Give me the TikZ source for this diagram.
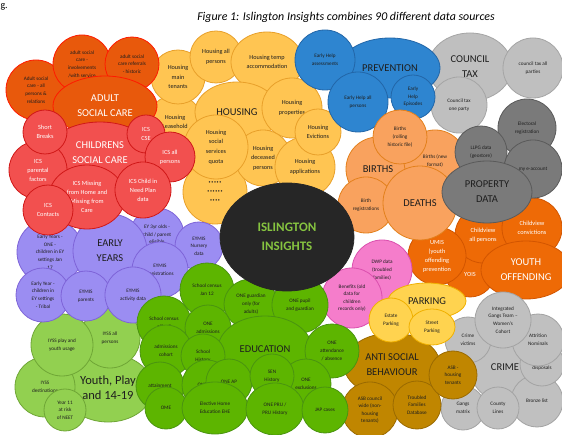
\documentclass[tikz,border=0pt]{standalone}
\usepackage{fontspec}
\setmainfont{Carlito}
\usetikzlibrary{shapes.geometric}
\definecolor{adF}{HTML}{E8590C}\definecolor{adD}{HTML}{FF1A00}
\definecolor{chF}{HTML}{F2504F}\definecolor{chD}{HTML}{D01818}
\definecolor{eyF}{HTML}{9B8DF2}\definecolor{eyD}{HTML}{7E64D8}
\definecolor{ypF}{HTML}{92D050}\definecolor{ypD}{HTML}{6FA636}
\definecolor{edF}{HTML}{5DB500}\definecolor{edD}{HTML}{4A9410}
\definecolor{hoF}{HTML}{FFC552}\definecolor{hoD}{HTML}{E8A02A}
\definecolor{prF}{HTML}{2E85D0}\definecolor{prD}{HTML}{2266A8}
\definecolor{ctF}{HTML}{BFBFBF}\definecolor{ctD}{HTML}{A5A5A5}
\definecolor{pdF}{HTML}{7A7A7A}\definecolor{pdD}{HTML}{5A5A5A}
\definecolor{biF}{HTML}{F9A25E}\definecolor{biD}{HTML}{E3801C}
\definecolor{ofF}{HTML}{EE6A06}\definecolor{ofD}{HTML}{D25500}
\definecolor{pkF}{HTML}{F57DCB}\definecolor{pkD}{HTML}{DB4FAE}
\definecolor{paF}{HTML}{FFD34F}\definecolor{paD}{HTML}{F0B000}
\definecolor{asF}{HTML}{C08600}\definecolor{asD}{HTML}{9A6A00}
\definecolor{crF}{HTML}{C0C0C0}\definecolor{crD}{HTML}{A3A3A3}
\definecolor{bkF}{HTML}{262626}\definecolor{inT}{HTML}{86C440}
\definecolor{txt}{HTML}{1E1E1E}
\newcommand\fs{\fontsize{5.2}{7.6}\selectfont}
\newcommand\fh{\fontsize{6.2}{9.6}\selectfont}
\newcommand\fc{\fontsize{6.3}{9}\selectfont}
\newcommand\fb{\fontsize{10.5}{15}\selectfont}
\newcommand\bb[7]{\node[bub,#1,minimum width={2*#5pt},minimum height={2*#6pt}] (#2) at (#3,#4) {#7};}
\tikzset{
 bub/.style={ellipse, inner sep=0pt, line width=0.8pt, align=center, font=\fs, text=txt},
 big/.style={font=\fb},
 wt/.style={text=white},
 yp/.style={fill=ypF, draw=ypD},
 ed/.style={fill=edF, draw=edD},
 ho/.style={fill=hoF, draw=hoD, font=\fh},
 ad/.style={fill=adF, draw=adD},
 ch/.style={fill=chF, draw=chD, text=white, font=\fc},
 ey/.style={fill=eyF, draw=eyD},
 pr/.style={fill=prF, draw=prD},
 ct/.style={fill=ctF, draw=ctD},
 pd/.style={fill=pdF, draw=pdD},
 bi/.style={fill=biF, draw=biD},
 of/.style={fill=ofF, draw=ofD, text=white, font=\fc},
 pk/.style={fill=pkF, draw=pkD},
 pa/.style={fill=paF, draw=paD},
 as/.style={fill=asF, draw=asD},
 cr/.style={fill=crF, draw=crD},
}
\begin{document}
\begin{tikzpicture}[x=1pt,y=-1pt]
\useasboundingbox[fill=white] (0,0) rectangle (562,435);
\node[anchor=west, font=\fontsize{10}{12}\selectfont] (frag) at (-3,7) {g.};
\node[font=\fontsize{11.9}{13}\selectfont\itshape] (title) at (346,17) {Figure 1: Islington Insights combines 90 different data sources};
% Youth, Play and 14-19
\bb{yp,font=\fontsize{12.5}{15}\selectfont}{ybig}{108}{388}{45}{34}{Youth, Play\\and 14-19}
\bb{yp}{ydest}{45}{387}{30}{30}{IYSS\\destinations}
\bb{yp}{yall}{110}{338}{30}{30}{IYSS all\\persons}
\bb{yp}{yplay}{62}{345}{31}{31}{IYSS play and\\youth usage}
\bb{yp}{y11}{65}{410}{21}{21}{Year 11\\at risk\\of NEET}
% Housing
\bb{ho,font=\fontsize{4}{9}\selectfont}{hunk}{215}{192}{32}{32}{\textbullet\,\textbullet\,\textbullet\,\textbullet\,\textbullet\\\textbullet\,\textbullet\,\textbullet\,\textbullet\,\textbullet\,\textbullet\\\textbullet\,\textbullet\,\textbullet\,\textbullet}
\bb{ho}{hlease}{175}{122}{27}{27}{Housing\\Leasehold}
\bb{ho}{hmain}{178}{77}{27}{27}{Housing\\main\\tenants}
\bb{ho}{hall}{216}{57}{26}{26}{Housing all\\persons}
\bb{ho}{htemp}{267}{62}{36}{30}{Housing temp\\accommodation}
\bb{ho,big}{hbig}{237}{112}{42}{30}{HOUSING}
\bb{ho}{hprop}{292}{108}{30}{30}{Housing\\properties}
\bb{ho}{hdec}{263}{158}{28}{28}{Housing\\deceased\\persons}
\bb{ho}{hsoc}{216}{147}{32}{32}{Housing\\social\\services\\quota}
\bb{ho}{happ}{305}{167}{30}{30}{Housing\\applications}
\bb{ho}{hevi}{318}{132}{23}{23}{Housing\\Evictions}
% Adult social care
\bb{ad}{a1}{36}{90}{30}{30}{Adult social\\care - all\\persons \&\\relations}
\bb{ad}{a2}{82}{64}{29}{29}{adult social\\care -\\involvements\\/with service}
\bb{ad}{a3}{132}{64}{27}{27}{adult social\\care referrals\\- historic}
\bb{ad,big,wt}{abig}{105}{106}{52}{30}{ADULT\\SOCIAL CARE}
% Early years
\bb{ey}{eyone}{50}{252}{33}{33}{Early Years -\\ONE -\\children in EY\\settings Jan\\17}
\bb{ey}{ey3}{157}{235}{27}{27}{EY 3yr olds -\\child / parent\\eligible}
\bb{ey}{eynur}{199}{246}{24}{24}{EYMIS\\Nursery\\data}
\bb{ey,big}{eybig}{110}{251}{37}{37}{EARLY\\YEARS}
\bb{ey}{eyreg}{160}{270}{28}{28}{EYMIS\\Registrations}
\bb{ey}{eytri}{43}{295}{27}{27}{Early Year -\\children in\\EY settings\\- Tribal}
\bb{ey}{eypar}{86}{296}{25}{25}{EYMIS\\parents}
\bb{ey}{eyact}{133}{295}{28}{28}{EYMIS\\activity data}
% Childrens social care
\bb{ch,big}{chbig}{100}{153}{52}{31}{CHILDRENS\\SOCIAL CARE}
\bb{ch}{chpar}{38}{170}{29}{29}{ICS\\parental\\factors}
\bb{ch}{chsb}{45}{132}{22}{22}{Short\\Breaks}
\bb{ch}{chcse}{146}{134}{19}{19}{ICS\\CSE}
\bb{ch}{chall}{170}{157}{25}{25}{ICS all\\persons}
\bb{ch}{chmis}{87}{197}{38}{32}{ICS Missing\\from Home and\\Missing from\\Care}
\bb{ch}{chcin}{143}{190}{28}{28}{ICS Child in\\Need Plan\\data}
\bb{ch}{chcon}{48}{210}{25}{25}{ICS\\Contacts}
% Council tax
\bb{ct,big}{ctbig}{470}{67}{42}{34}{COUNCIL\\TAX}
\bb{ct}{ctall}{533}{68}{30}{30}{council tax all\\parties}
\bb{ct}{ctone}{459}{105}{28}{28}{Council tax\\one party}
% Prevention
\bb{pr,big}{pbig}{390}{68}{50}{30}{PREVENTION}
\bb{pr}{pea}{325}{60}{30}{30}{Early Help\\assessments}
\bb{pr}{pall}{358}{102}{30}{30}{Early Help all\\persons}
\bb{pr}{pepi}{413}{97}{22}{22}{Early\\Help\\Episodes}
% Youth offending
\bb{of}{oyois}{470}{272}{25}{25}{\\YOIS}
\bb{of}{ocv}{483}{235}{28}{28}{Childview\\all persons}
\bb{of}{occ}{532}{228}{30}{30}{Childview\\convictions}
\bb{of,big}{obig}{526}{270}{45}{29}{YOUTH\\OFFENDING}
\bb{of}{oumis}{437}{256}{29}{29}{UMIS\\(youth\\offending\\prevention}
% Births and deaths
\bb{bi,big}{bbig}{378}{169}{32}{32}{BIRTHS}
\bb{bi}{bnew}{435}{161}{31}{31}{Births (new\\format)}
\bb{bi}{broll}{400}{137}{27}{27}{Births\\(rolling\\historic file)}
\bb{bi}{breg}{366}{205}{28}{28}{Birth\\registrations}
\bb{bi,big}{bdea}{420}{203}{37}{37}{DEATHS}
% Property data
\bb{pd}{pelec}{527}{128}{29}{29}{Electoral\\registration}
\bb{pd}{pllpg}{481}{152}{26}{26}{LLPG data\\(geostore)}
\bb{pd}{pmy}{533}{169}{29}{29}{my e-account}
\bb{pd,big}{pbig2}{487}{192}{45}{31}{PROPERTY\\DATA}
% Pink
\bb{pk}{pkdwp}{382}{270}{30}{30}{DWP data\\(troubled\\families)}
\bb{pk}{pkben}{352}{298}{30}{30}{Benefits (old\\data for\\children\\records only)}
% Crime
\bb{cr,big}{crbig}{505}{367}{35}{35}{CRIME}
\bb{cr}{crbl}{537}{401}{26}{26}{Bronze list}
\bb{cr}{crcus}{542}{364}{22}{22}{Custody\\disposals}
\bb{cr}{cratt}{538}{340}{26}{26}{Attrition\\Nominals}
\bb{cr}{crvic}{468}{340}{23}{23}{Crime\\victims}
\bb{cr}{crigt}{503}{320}{28}{28}{Integrated\\Gangs Team --\\Women's\\Cohort}
\bb{cr}{crgm}{463}{408}{22}{22}{Gangs\\matrix}
\bb{cr}{crcl}{498}{408}{21}{21}{County\\Lines}
% Anti social behaviour
\bb{as,big}{asbig}{392}{365}{48}{32}{ANTI SOCIAL\\BEHAVIOUR}
\bb{as}{ascw}{370}{410}{28}{28}{ASB council\\wide (non-\\housing\\tenants)}
\bb{as}{astf}{417}{405}{24}{24}{Troubled\\Families\\Database}
\bb{as}{ashou}{453}{375}{24}{24}{ASB -\\housing\\tenants}
% Parking
\bb{pa,big}{pabig}{427}{301}{39}{18}{PARKING}
\bb{pa}{paest}{391}{320}{22}{22}{Estate\\Parking}
\bb{pa}{pastr}{432}{327}{23}{18}{Street\\Parking}
% Education
\bb{ed}{esc}{207}{290}{27}{27}{School census\\Jan 12}
\bb{ed}{eguard}{251}{304}{27}{25}{ONE guardian\\only (for\\adults)}
\bb{ed}{epupil}{300}{305}{28}{28}{ONE pupil\\and guardian}
\bb{ed}{eoff}{164}{323}{27}{27}{School census\\off roll}
\bb{ed}{eadm}{208}{328}{23}{23}{ONE\\admissions}
\bb{ed}{ecoh}{166}{351}{26}{26}{admissions\\cohort}
\bb{ed}{eatt}{160}{386}{24}{24}{attainment}
\bb{ed}{eome}{166}{408}{21}{21}{OME}
\bb{ed,big}{ebig}{265}{349}{47}{33}{EDUCATION}
\bb{ed}{ehist}{203}{356}{22}{22}{School\\History}
\bb{ed}{eones}{207}{385}{25}{25}{ONE SEN}
\bb{ed}{eap}{229}{382}{23}{23}{ONE AP}
\bb{ed}{eatd}{332}{351}{27}{27}{ONE\\attendance\\/ absence}
\bb{ed}{eexc}{306}{384}{25}{25}{ONE\\exclusions}
\bb{ed}{esen}{272}{376}{22}{22}{SEN\\History}
\bb{ed}{eehe}{215}{408}{33}{26}{Elective Home\\Education EHE}
\bb{ed}{epru}{275}{409}{29}{26}{ONE PRU /\\PRU History}
\bb{ed}{ejap}{325}{410}{23}{23}{JAP cases}
% Centre
\bb{fill=bkF,draw=bkF,text=inT,font=\fontsize{13}{19}\selectfont\bfseries}{ins}{287}{237}{67}{54}{ISLINGTON\\INSIGHTS}
\end{tikzpicture}
\end{document}
